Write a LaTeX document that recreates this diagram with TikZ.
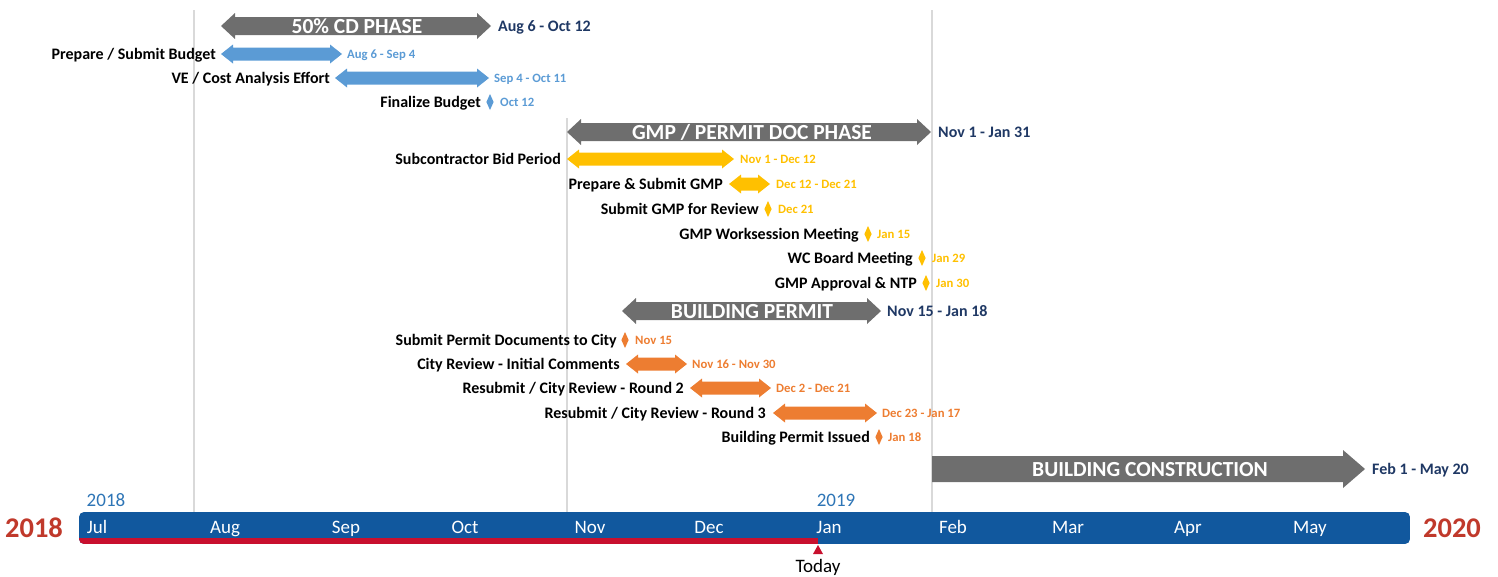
\documentclass[tikz,border=0pt]{standalone}
\usepackage{fontspec}
\setmainfont{Carlito}
\definecolor{phasegray}{HTML}{6E6E6E}
\definecolor{tblue}{HTML}{5B9BD5}
\definecolor{tyellow}{HTML}{FFC000}
\definecolor{torange}{HTML}{ED7D31}
\definecolor{navy}{HTML}{1F3864}
\definecolor{barblue}{HTML}{11589E}
\definecolor{barred}{HTML}{C8102E}
\definecolor{yearred}{HTML}{C0392B}
\definecolor{yearblue}{HTML}{2E75B6}
\definecolor{gridgray}{HTML}{D9D9D9}
\newcommand\dblarr[7]{% color, x1, x2, y, body half, head half, tip
  \fill[#1] (#2,#4) -- (#2+#7,#4-#6) -- (#2+#7,#4-#5) -- (#3-#7,#4-#5) -- (#3-#7,#4-#6)
    -- (#3,#4) -- (#3-#7,#4+#6) -- (#3-#7,#4+#5) -- (#2+#7,#4+#5) -- (#2+#7,#4+#6) -- cycle;}
\newcommand\milestone[3]{% color, x, y
  \fill[#1] (#2,#3-8) -- (#2+3.6,#3) -- (#2,#3+8) -- (#2-3.6,#3) -- cycle;}
\tikzset{
  task/.style={anchor=base east, yshift=-5.3pt, font=\fontsize{16}{18}\selectfont\bfseries, text=black, inner sep=0pt},
  date/.style={anchor=base west, yshift=-4.2pt, font=\fontsize{12.7}{14}\selectfont\bfseries, inner sep=0pt},
  phasedate/.style={anchor=base west, yshift=-5.3pt, font=\fontsize{16}{18}\selectfont\bfseries, text=navy, inner sep=0pt},
  phasetext/.style={anchor=base, yshift=-7.2pt, font=\fontsize{21.5}{23}\selectfont\bfseries, text=white, inner sep=0pt},
  month/.style={anchor=base, yshift=-6.2pt, font=\fontsize{19}{21}\selectfont, text=white, inner sep=0pt},
  bigyear/.style={anchor=base, yshift=-9.3pt, font=\fontsize{28.5}{30}\selectfont\bfseries, text=yearred, inner sep=0pt},
  smallyear/.style={anchor=base, yshift=-6.2pt, font=\fontsize{19}{21}\selectfont, text=yearblue, inner sep=0pt},
  grid/.style={draw=gridgray, line width=1.4pt},
}
\begin{document}
\begin{tikzpicture}[x=1pt,y=-1pt]
\useasboundingbox (0,0) rectangle (1498,576);
% grid lines
\draw[grid] (194,10) -- (194,512);
\draw[grid] (567,118) -- (567,512);
\draw[grid] (932,10) -- (932,512);

% 50% CD phase
\dblarr{phasegray}{221}{491}{26}{9}{13}{14}
\node[phasetext] (cd) at (357,26) {50\% CD PHASE};
\node[phasedate] (cdd) at (498,26) {Aug 6 - Oct 12};
\dblarr{tblue}{221}{342}{54}{6.5}{9.5}{12}
\node[task] (t1) at (216,54) {Prepare / Submit Budget};
\node[date, text=tblue] (d1) at (347,54) {Aug 6 - Sep 4};
\dblarr{tblue}{335}{489}{78}{6.5}{9.5}{12}
\node[task] (t2) at (330,78) {VE / Cost Analysis Effort};
\node[date, text=tblue] (d2) at (494,78) {Sep 4 - Oct 11};
\milestone{tblue}{490}{102}
\node[task] (t3) at (481,102) {Finalize Budget};
\node[date, text=tblue] (d3) at (500,102) {Oct 12};

% GMP phase
\dblarr{phasegray}{567}{931}{132}{9}{13}{14}
\node[phasetext] (gmp) at (752,132) {GMP / PERMIT DOC PHASE};
\node[phasedate] (gmpd) at (938,132) {Nov 1 - Jan 31};
\dblarr{tyellow}{567}{734}{159}{6.5}{9.5}{12}
\node[task] (t4) at (561,159) {Subcontractor Bid Period};
\node[date, text=tyellow] (d4) at (740,159) {Nov 1 - Dec 12};
\dblarr{tyellow}{729}{770}{184}{6.5}{9.5}{12}
\node[task] (t5) at (723,184) {Prepare \& Submit GMP};
\node[date, text=tyellow] (d5) at (776,184) {Dec 12 - Dec 21};
\milestone{tyellow}{768}{209}
\node[task] (t6) at (759,209) {Submit GMP for Review};
\node[date, text=tyellow] (d6) at (778,209) {Dec 21};
\milestone{tyellow}{868}{234}
\node[task] (t7) at (859,234) {GMP Worksession Meeting};
\node[date, text=tyellow] (d7) at (877,234) {Jan 15};
\milestone{tyellow}{922}{258}
\node[task] (t8) at (913,258) {WC Board Meeting};
\node[date, text=tyellow] (d8) at (932,258) {Jan 29};
\milestone{tyellow}{926}{283}
\node[task] (t9) at (917,283) {GMP Approval \& NTP};
\node[date, text=tyellow] (d9) at (936,283) {Jan 30};

% Building permit
\dblarr{phasegray}{622}{881}{311}{9}{13}{14}
\node[phasetext] (bp) at (752,311) {BUILDING PERMIT};
\node[phasedate] (bpd) at (887,311) {Nov 15 - Jan 18};
\milestone{torange}{625}{340}
\node[task] (t10) at (617,340) {Submit Permit Documents to City};
\node[date, text=torange] (d10) at (635,340) {Nov 15};
\dblarr{torange}{626}{687}{364}{6.5}{9.5}{12}
\node[task] (t11) at (620,364) {City Review - Initial Comments};
\node[date, text=torange] (d11) at (692,364) {Nov 16 - Nov 30};
\dblarr{torange}{690}{771}{388}{6.5}{9.5}{12}
\node[task] (t12) at (684,388) {Resubmit / City Review - Round 2};
\node[date, text=torange] (d12) at (776,388) {Dec 2 - Dec 21};
\dblarr{torange}{773}{877}{413}{6.5}{9.5}{12}
\node[task] (t13) at (766,413) {Resubmit / City Review - Round 3};
\node[date, text=torange] (d13) at (882,413) {Dec 23 - Jan 17};
\milestone{torange}{879}{437}
\node[task] (t14) at (870,437) {Building Permit Issued};
\node[date, text=torange] (d14) at (888,437) {Jan 18};

% Building construction
\fill[phasegray] (932,456) -- (1343,456) -- (1343,450) -- (1365,469) -- (1343,488) -- (1343,482) -- (932,482) -- cycle;
\node[phasetext] (bc) at (1150,469) {BUILDING CONSTRUCTION};
\node[phasedate] (bcd) at (1372,469) {Feb 1 - May 20};

% timeline
\begin{scope}
  \clip[rounded corners=5pt] (79,512) rectangle (1410,544);
  \fill[barblue] (79,512) rectangle (1410,544);
  \fill[barred] (79,537.5) rectangle (818,544);
\end{scope}
\foreach \m/\x in {Jul/97,Aug/225,Sep/346,Oct/465,Nov/590,Dec/709,Jan/829,Feb/953,Mar/1068,Apr/1188,May/1310}
  \node[month] (m\m) at (\x,527) {\m};
\node[bigyear] (ys) at (34,528) {2018};
\node[bigyear] (ye) at (1452,528) {2020};
\node[smallyear] (y18) at (106,500) {2018};
\node[smallyear] (y19) at (836,500) {2019};
\fill[barred] (818,545) -- (823,554) -- (813,554) -- cycle;
\node[anchor=base, yshift=-6.2pt, font=\fontsize{19}{21}\selectfont, text=black, inner sep=0pt] (today) at (818,566) {Today};
\end{tikzpicture}
\end{document}
